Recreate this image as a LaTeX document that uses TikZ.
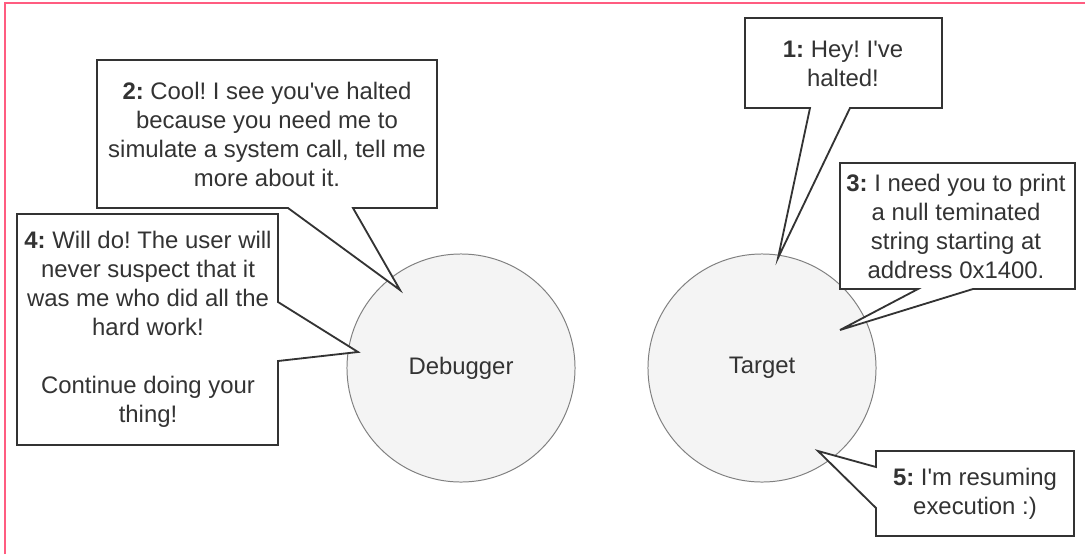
\documentclass[tikz,border=0pt]{standalone}
\usepackage{fontspec}
\setmainfont{Liberation Sans}
\frenchspacing

\definecolor{framepink}{HTML}{FF5C80}
\definecolor{inkgray}{HTML}{333333}
\definecolor{discgray}{HTML}{F4F4F4}
\definecolor{rimgray}{HTML}{808080}

\begin{document}
\begin{tikzpicture}[x=0.025cm, y=-0.025cm,
        every node/.style={font=\fontsize{17}{20.6}\selectfont},
        party/.style={circle, draw=rimgray, fill=discgray, line width=0.7pt,
            minimum size=5.7cm, inner sep=0pt, text=inkgray},
        bubble/.style={draw=inkgray, fill=white, line width=1.3pt, line join=miter},
        says/.style={align=center, text=inkgray, inner sep=0pt}]
        % Page size and the pink frame
        \useasboundingbox (0,0) rectangle (1085,554);
        \draw[framepink, line width=1.4pt] (5,554) -- (5,3) -- (1085,3);

        % The two parties
        \node[party] (debugger) at (461,368) {Debugger};
        \node[party] (target) at (762,368) {Target};

        % Tips of the speech bubbles
        \coordinate (tip1) at (778,258);
        \coordinate (tip2) at (400,290);
        \coordinate (tip3) at (840,330);
        \coordinate (tip4) at (358,352);
        \coordinate (tip5) at (818,451);

        % Bubble outlines
        \draw[bubble] (745,18) -- (942,18) -- (942,108) -- (850,108) -- (tip1) -- (810,108) -- (745,108) -- cycle;
        \draw[bubble] (97,60) -- (437,60) -- (437,208) -- (353,208) -- (tip2) -- (288,208) -- (97,208) -- cycle;
        \draw[bubble] (840,163) -- (1075,163) -- (1075,289) -- (973,289) -- (tip3) -- (918,289) -- (840,289) -- cycle;
        \draw[bubble] (17,214) -- (278,214) -- (278,302) -- (tip4) -- (278,361) -- (278,445) -- (17,445) -- cycle;
        \draw[bubble] (876,451) -- (1074,451) -- (1074,536) -- (876,536) -- (876,508) -- (tip5) -- (876,467) -- cycle;

        % Messages
        \node[says] (msg1) at (843,64) {\textbf{1:} Hey! I\textquotesingle ve\\halted!};
        \node[says] (msg2) at (267,134) {\textbf{2:} Cool! I see you\textquotesingle ve halted\\because you need me to\\simulate a system call, tell me\\more about it.};
        \node[says] (msg3) at (956,226) {\textbf{3:} I need you to print\\a null teminated\\string starting at\\address 0x1400.};
        \node[says] (msg4) at (148,329) {\textbf{4:} Will do! The user will\\never suspect that it\\was me who did all the\\hard work!\\[20.6pt]Continue doing your\\thing!};
        \node[says] (msg5) at (975,494) {\textbf{5:} I\textquotesingle m resuming\\execution :)};
\end{tikzpicture}
\end{document}
